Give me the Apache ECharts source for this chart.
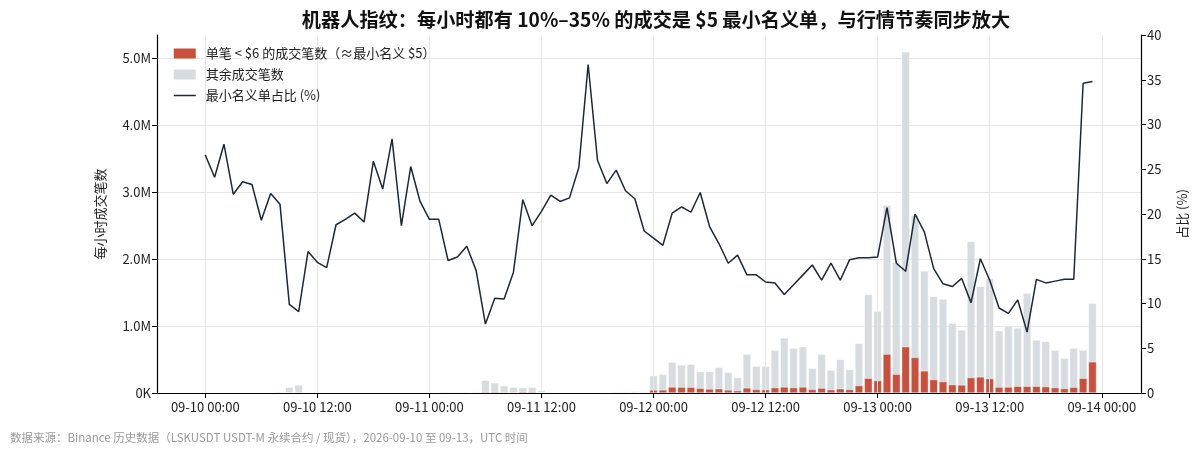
<!DOCTYPE html>
<html><head><meta charset="utf-8">
<script src="https://cdn.jsdelivr.net/npm/echarts@6/dist/echarts.min.js"></script>
<style>html,body{margin:0;padding:0;background:#fff}#c{width:1200px;height:456px}</style>
</head><body><div id="c"></div>
<script>
// x-axis ticks (hours since 2026-09-10 00:00 UTC)
const tickHours = [0, 12, 24, 36, 48, 60, 72, 84, 96];
const tickLabels = ['09-10 00:00','09-10 12:00','09-11 00:00','09-11 12:00','09-12 00:00','09-12 12:00','09-13 00:00','09-13 12:00','09-14 00:00'];
const leftTicks = [0, 1, 2, 3, 4, 5];

// hourly total trade count (millions), hours 0..95
const totalTradesM = [
  0.005,0.004,0.006,0.005,0.004,0.005,0.006,0.007,0.02,
  0.085,0.12,
  0.008,0.006,0.005,0.006,0.005,0.006,0.007,0.006,0.005,0.006,0.007,0.006,0.008,
  0.012,0.014,0.015,0.016,0.018,0.02,
  0.19,0.15,0.11,0.085,0.08,0.085,0.035,
  0.012,0.01,0.009,0.01,0.008,0.01,0.012,
  0.02,0.02,0.022,0.02,
  0.26,0.28,0.46,0.42,0.43,0.32,0.32,0.38,0.31,0.23,0.58,0.40,0.40,0.64,0.82,0.67,
  0.69,0.37,0.58,0.34,0.50,0.35,0.74,1.47,1.22,2.80,1.95,5.09,2.65,1.82,1.44,1.40,
  1.04,0.94,2.26,1.59,1.71,0.93,1.00,0.97,1.49,0.79,0.77,0.64,0.52,0.67,0.64,1.34
];
// hourly trades with notional < $6 (millions)
const smallTradesM = [
  0.0013,0.001,0.0017,0.0011,0.0009,0.0012,0.0012,0.0016,0.0042,
  0.0084,0.011,
  0.0013,0.0009,0.0007,0.0011,0.001,0.0012,0.0013,0.0016,0.0011,0.0017,0.0013,0.0015,0.0017,
  0.0023,0.0027,0.0022,0.0024,0.003,0.0027,
  0.015,0.016,0.012,0.011,0.017,0.016,0.007,
  0.0027,0.0021,0.002,0.0025,0.0029,0.0026,0.0028,
  0.005,0.0045,0.0048,0.0036,
  0.045,0.046,0.09,0.087,0.086,0.07,0.06,0.063,0.045,0.035,0.076,0.053,0.05,0.079,0.09,0.081,
  0.09,0.053,0.073,0.049,0.063,0.052,0.11,0.22,0.185,0.58,0.28,0.69,0.53,0.33,0.2,0.17,
  0.124,0.12,0.23,0.24,0.215,0.088,0.089,0.1,0.1,0.1,0.095,0.08,0.066,0.085,0.22,0.465
];
// share of minimum-notional trades (%)
const smallSharePct = [
  26.6,24.1,27.8,22.2,23.6,23.3,19.3,22.3,21.1,9.9,9.1,15.8,14.6,14.0,18.8,19.4,
  20.1,19.1,25.9,22.8,28.4,18.7,25.3,21.4,19.4,19.4,14.8,15.2,16.4,13.7,7.7,10.6,
  10.5,13.5,21.6,18.7,20.3,22.1,21.4,21.8,25.2,36.7,26.0,23.4,24.9,22.6,21.7,18.1,
  17.3,16.5,20.1,20.8,20.2,22.4,18.6,16.7,14.5,15.4,13.2,13.2,12.4,12.3,11.0,12.1,
  13.2,14.3,12.6,14.5,12.6,14.9,15.1,15.1,15.2,20.7,14.5,13.6,20.0,18.0,13.9,12.2,
  11.9,12.8,10.1,15.0,12.6,9.5,8.9,10.4,6.8,12.7,12.3,12.5,12.7,12.7,34.6,34.8
];

const NAME_SMALL = '单笔 < $6 的成交笔数（≈最小名义 $5）';
const NAME_OTHER = '其余成交笔数';
const NAME_PCT = '最小名义单占比 (%)';
const FONT = "'Noto Sans CJK SC','Noto Sans',sans-serif";
const RED = '#c8503c', GRAY = '#d6dcdf', LINE = '#1c2838';

const chart = echarts.init(document.getElementById('c'), null, {renderer: 'canvas'});
// gray bar spans the full hourly total; red bar (small trades) is drawn over its lower part
const totalData = totalTradesM.map((v, i) => [i, v]);
const smallData = smallTradesM.map((v, i) => [i, v]);
const pctData = smallSharePct.map((v, i) => [i, v]);

chart.setOption({
  animation: false,
  textStyle: {fontFamily: FONT},
  title: {
    text: '机器人指纹：每小时都有 10%–35% 的成交是 $5 最小名义单，与行情节奏同步放大',
    left: 651, top: 5, textAlign: 'center',
    textStyle: {fontSize: 19.2, fontWeight: 'bold', color: '#111', fontFamily: FONT}
  },
  legend: {
    orient: 'vertical', left: 168, top: 42,
    itemWidth: 22, itemHeight: 10, itemGap: 8,
    textStyle: {fontSize: 13, color: '#222', fontFamily: FONT, padding: [0, 0, 0, 5]},
    data: [
      {name: NAME_SMALL, icon: 'rect', itemStyle: {color: RED, borderWidth: 0}},
      {name: NAME_OTHER, icon: 'rect', itemStyle: {color: GRAY, borderWidth: 0}},
      {name: NAME_PCT, itemStyle: {opacity: 0}, lineStyle: {color: LINE, width: 1.5, opacity: 1}}
    ]
  },
  grid: {left: 157, right: 59, top: 35, bottom: 63},
  xAxis: {
    type: 'value', min: -5.17, max: 100.2, z: 3,
    axisLine: {show: true, onZero: false, lineStyle: {color: '#000', width: 1.2}},
    axisTick: {show: true, customValues: tickHours, length: 5, lineStyle: {color: '#000', width: 1}},
    axisLabel: {customValues: tickHours, formatter: v => tickLabels[tickHours.indexOf(v)] || '',
      fontSize: 13, color: '#222', margin: 8, fontFamily: FONT},
    splitLine: {show: true, lineStyle: {color: '#e6e6e6', width: 1}}
  },
  yAxis: [{
    type: 'value', min: 0, max: 5.34,
    name: '每小时成交笔数', nameLocation: 'middle', nameGap: 50, nameRotate: 90,
    nameTextStyle: {fontSize: 13, color: '#222', fontFamily: FONT},
    axisLine: {show: true, onZero: false, lineStyle: {color: '#000', width: 1.2}},
    axisTick: {show: true, customValues: leftTicks, length: 5, lineStyle: {color: '#000'}},
    axisLabel: {customValues: leftTicks, formatter: v => v === 0 ? '0K' : v.toFixed(1) + 'M',
      fontSize: 13, color: '#222', margin: 6, fontFamily: FONT},
    splitLine: {show: true, lineStyle: {color: '#e6e6e6', width: 1}}
  }, {
    type: 'value', min: 0, max: 40, interval: 5, position: 'right',
    name: '占比 (%)', nameLocation: 'middle', nameGap: 35, nameRotate: 90,
    nameTextStyle: {fontSize: 13, color: '#222', fontFamily: FONT},
    axisLine: {show: true, onZero: false, lineStyle: {color: '#000', width: 1.2}},
    axisTick: {show: true, length: 5, lineStyle: {color: '#000'}},
    axisLabel: {fontSize: 13, color: '#222', margin: 6, fontFamily: FONT},
    splitLine: {show: false}
  }],
  series: [{
    name: NAME_OTHER, type: 'bar', barWidth: 8, barGap: '-100%', data: totalData, z: 2,
    itemStyle: {color: GRAY, borderColor: 'rgba(255,255,255,0.85)', borderWidth: 0.5}
  }, {
    name: NAME_SMALL, type: 'bar', barWidth: 8, barGap: '-100%', data: smallData, z: 2,
    itemStyle: {color: RED, borderColor: 'rgba(255,255,255,0.85)', borderWidth: 0.5}
  }, {
    name: NAME_PCT, type: 'line', yAxisIndex: 1, data: pctData, symbol: 'none', z: 5,
    lineStyle: {color: LINE, width: 1.5}, itemStyle: {color: LINE}
  }],
  graphic: [{
    type: 'text', left: 10, top: 432,
    style: {text: '数据来源：Binance 历史数据（LSKUSDT USDT-M 永续合约 / 现货），2026-09-10 至 09-13，UTC 时间',
      fontSize: 11.5, fill: '#9a9a9a', fontFamily: FONT}
  }]
});
</script></body></html>
